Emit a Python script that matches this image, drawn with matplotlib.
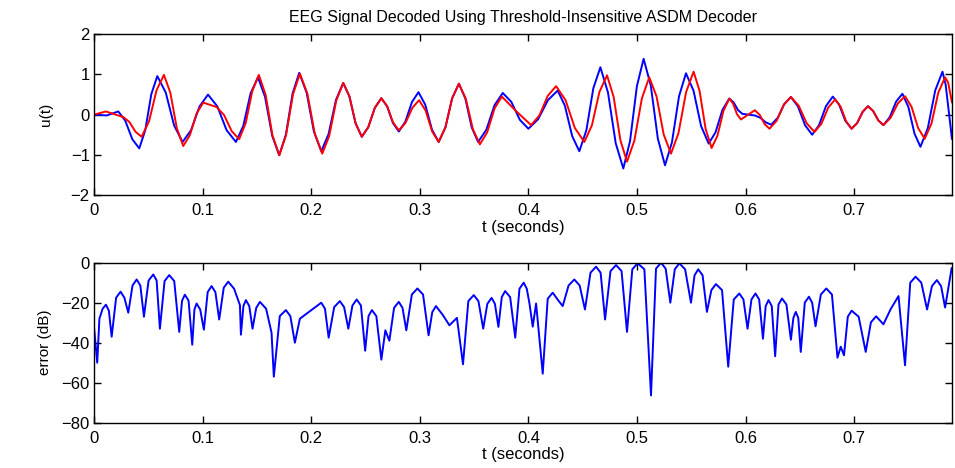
import matplotlib
matplotlib.use("Agg")
import matplotlib.pyplot as plt

# --- data (t in seconds) --------------------------------------------------
# original signal u(t), blue: extrema plus shoulder points on each swing
t_orig = [0.0, 0.0117, 0.0224, 0.0288, 0.0353, 0.0417, 0.0472, 0.0528,
          0.0583, 0.0661, 0.0738, 0.0816, 0.0894, 0.0972, 0.105, 0.1136,
          0.1221, 0.1307, 0.1375, 0.1442, 0.151, 0.1575, 0.1641, 0.1706,
          0.1767, 0.1829, 0.189, 0.1958, 0.2025, 0.2093, 0.216, 0.2228,
          0.2295, 0.2352, 0.2409, 0.2466, 0.2526, 0.2586, 0.2646, 0.27,
          0.2753, 0.2807, 0.2867, 0.2928, 0.2988, 0.305, 0.3112, 0.3174,
          0.3236, 0.3298, 0.336, 0.3419, 0.3478, 0.3537, 0.3613, 0.3688,
          0.3764, 0.3843, 0.3921, 0.4, 0.409, 0.418, 0.427, 0.4336,
          0.4403, 0.4469, 0.4534, 0.4598, 0.4663, 0.4733, 0.4804, 0.4874,
          0.4936, 0.4999, 0.5061, 0.5127, 0.5192, 0.5258, 0.5322, 0.5387,
          0.5451, 0.5521, 0.559, 0.566, 0.5723, 0.5787, 0.585, 0.589,
          0.593, 0.597, 0.6085, 0.6135, 0.6186, 0.6236, 0.6296, 0.6357,
          0.6417, 0.6482, 0.6548, 0.6613, 0.6676, 0.674, 0.6803, 0.6861,
          0.6918, 0.6976, 0.7027, 0.7078, 0.7127, 0.7174, 0.7222, 0.7269,
          0.7327, 0.7386, 0.7444, 0.7499, 0.7555, 0.761, 0.7678, 0.7746,
          0.7813, 0.7842, 0.79]
u_orig = [0.0, -0.02, 0.08, -0.15, -0.61, -0.84, -0.39, 0.51,
          0.96, 0.55, -0.27, -0.68, -0.385, 0.205, 0.50, 0.205,
          -0.385, -0.68, -0.28, 0.53, 0.93, 0.445, -0.525, -1.01,
          -0.50, 0.53, 1.04, 0.55, -0.42, -0.91, -0.485, 0.365,
          0.79, 0.455, -0.215, -0.55, -0.31, 0.17, 0.41, 0.20,
          -0.21, -0.42, -0.175, 0.315, 0.56, 0.25, -0.37, -0.68,
          -0.3175, 0.4075, 0.77, 0.4075, -0.3175, -0.68, -0.375, 0.235,
          0.54, 0.3175, -0.1275, -0.35, -0.1125, 0.3625, 0.60, 0.2225,
          -0.5325, -0.91, -0.3875, 0.6575, 1.18, 0.55, -0.71, -1.34,
          -0.6575, 0.7075, 1.39, 0.7275, -0.5975, -1.26, -0.6875, 0.4575,
          1.03, 0.5925, -0.2825, -0.72, -0.44, 0.12, 0.40, 0.305,
          0.115, 0.02, -0.02, -0.0775, -0.1925, -0.25, -0.0775, 0.2675,
          0.44, 0.205, -0.265, -0.50, -0.2625, 0.2125, 0.45, 0.25,
          -0.15, -0.35, -0.21, 0.07, 0.21, 0.0925, -0.1425, -0.26,
          -0.065, 0.325, 0.52, 0.19, -0.47, -0.80, -0.3325, 0.6025,
          1.07, 0.75, -0.60]

# decoded signal, red
t_dec = [0.0, 0.011, 0.027, 0.0326, 0.0383, 0.0439, 0.0507, 0.0576,
         0.0644, 0.0703, 0.0763, 0.0822, 0.0883, 0.0945, 0.1006, 0.1129,
         0.1198, 0.1268, 0.1337, 0.1397, 0.1458, 0.1518, 0.1581, 0.1643,
         0.1706, 0.1769, 0.1833, 0.1896, 0.1965, 0.2033, 0.2102, 0.2166,
         0.2231, 0.2295, 0.2352, 0.2409, 0.2466, 0.2526, 0.2586, 0.2646,
         0.27, 0.2753, 0.2807, 0.2869, 0.2932, 0.2994, 0.3054, 0.3114,
         0.3174, 0.3236, 0.3298, 0.336, 0.3424, 0.3489, 0.3553, 0.362,
         0.3688, 0.3755, 0.3894, 0.4025, 0.4102, 0.4178, 0.4255, 0.4342,
         0.4428, 0.4515, 0.4585, 0.4654, 0.4724, 0.4785, 0.4847, 0.4908,
         0.4976, 0.5045, 0.5113, 0.518, 0.5246, 0.5313, 0.5382, 0.5452,
         0.5521, 0.5576, 0.5632, 0.5687, 0.5741, 0.5796, 0.585, 0.5886,
         0.5921, 0.5957, 0.6085, 0.613, 0.6175, 0.622, 0.6286, 0.6351,
         0.6417, 0.6489, 0.6562, 0.6634, 0.6698, 0.6761, 0.6825, 0.6875,
         0.6926, 0.6976, 0.7027, 0.7078, 0.7127, 0.7174, 0.7222, 0.7269,
         0.7335, 0.7402, 0.7468, 0.7528, 0.7589, 0.7649, 0.7712, 0.7774,
         0.7837, 0.7865, 0.79]
u_dec = [0.0, 0.08, -0.06, -0.1825, -0.4275, -0.55, -0.165, 0.605,
         0.99, 0.5475, -0.3375, -0.78, -0.51, 0.03, 0.30, 0.19,
         -0.01, -0.41, -0.61, -0.21, 0.59, 0.99, 0.49, -0.51,
         -1.01, -0.5025, 0.5125, 1.02, 0.5225, -0.4725, -0.97, -0.53,
         0.35, 0.79, 0.455, -0.215, -0.55, -0.31, 0.17, 0.41,
         0.21, -0.19, -0.39, -0.2025, 0.1725, 0.36, 0.10, -0.42,
         -0.68, -0.3175, 0.4075, 0.77, 0.3925, -0.3625, -0.74, -0.4425,
         0.1525, 0.45, 0.07, -0.26, -0.0175, 0.4675, 0.71, 0.3625,
         -0.3325, -0.68, -0.265, 0.565, 0.98, 0.4425, -0.6325, -1.17,
         -0.645, 0.405, 0.93, 0.455, -0.495, -0.97, -0.46, 0.56,
         1.07, 0.595, -0.355, -0.83, -0.5225, 0.0925, 0.40, 0.27,
         0.01, -0.12, 0.11, -0.005, -0.235, -0.35, -0.1525, 0.2425,
         0.44, 0.2225, -0.2125, -0.43, -0.2275, 0.1775, 0.38, 0.1975,
         -0.1675, -0.35, -0.21, 0.07, 0.21, 0.0925, -0.1425, -0.26,
         -0.08, 0.28, 0.46, 0.195, -0.335, -0.60, -0.2175, 0.5475,
         0.93, 0.80, 0.31]

# reconstruction error in dB (arc tops, shoulders and notches)
t_err = [0.0, 0.003, 0.005, 0.008, 0.011, 0.0137, 0.0163, 0.0204,
         0.0245, 0.028, 0.0316, 0.0355, 0.0393, 0.0427, 0.046, 0.0503,
         0.0546, 0.0577, 0.0607, 0.065, 0.0693, 0.0739, 0.0785, 0.0811,
         0.0837, 0.0871, 0.0905, 0.0925, 0.0945, 0.0978, 0.1012, 0.1047,
         0.1083, 0.1118, 0.1153, 0.1195, 0.1236, 0.129, 0.1344, 0.1353,
         0.1376, 0.1399, 0.143, 0.146, 0.1494, 0.1528, 0.1585, 0.1635,
         0.1656, 0.1711, 0.1767, 0.1808, 0.185, 0.1896, 0.2093, 0.2127,
         0.2161, 0.2212, 0.2264, 0.2303, 0.2342, 0.238, 0.2419, 0.2458,
         0.2497, 0.2528, 0.2559, 0.26, 0.2646, 0.2683, 0.272, 0.2763,
         0.2807, 0.2841, 0.2876, 0.2927, 0.2978, 0.303, 0.3081, 0.3115,
         0.3149, 0.321, 0.3273, 0.3342, 0.3398, 0.3447, 0.3497, 0.354,
         0.3584, 0.3622, 0.3661, 0.3692, 0.3724, 0.3755, 0.3786, 0.3832,
         0.3879, 0.3918, 0.3957, 0.3985, 0.401, 0.404, 0.4071, 0.4132,
         0.4178, 0.4224, 0.427, 0.4316, 0.437, 0.4423, 0.4472, 0.4521,
         0.4572, 0.4623, 0.4665, 0.4706, 0.4756, 0.4807, 0.4858, 0.4908,
         0.4957, 0.5006, 0.5068, 0.5129, 0.5175, 0.5221, 0.5264, 0.5307,
         0.5348, 0.539, 0.5443, 0.5497, 0.553, 0.5564, 0.5604, 0.5644,
         0.5685, 0.5727, 0.5783, 0.584, 0.5891, 0.5942, 0.598, 0.6018,
         0.6054, 0.6091, 0.6125, 0.616, 0.6185, 0.6211, 0.6241, 0.6272,
         0.6303, 0.6335, 0.6376, 0.6417, 0.644, 0.6462, 0.6485, 0.6508,
         0.6545, 0.6583, 0.6613, 0.6644, 0.6693, 0.6743, 0.6795, 0.6846,
         0.6876, 0.6906, 0.6941, 0.6976, 0.7041, 0.7106, 0.7154, 0.7202,
         0.7269, 0.7338, 0.7408, 0.7468, 0.7516, 0.7565, 0.7618, 0.7671,
         0.7716, 0.7761, 0.78, 0.7837, 0.7897]
err_db = [-32, -50, -28, -23, -21, -24, -37, -17.5,
          -14.5, -17.5, -25, -11.4, -8.4, -11.4, -27, -8.9,
          -5.9, -8.9, -33, -9.2, -6.2, -9.2, -34.6, -19,
          -16, -19, -41, -23.4, -20.4, -23.4, -33.5, -14.7,
          -11.7, -14.7, -28.4, -12.5, -9.5, -13, -21.2, -36,
          -21.7, -18.7, -21.7, -33, -22.6, -19.6, -23, -35,
          -57, -26.7, -23.7, -26.7, -40, -28, -20, -23,
          -37.5, -22.2, -19.2, -22.2, -33, -21.4, -18.4, -21.4,
          -44, -26.7, -23.7, -26.7, -48.5, -33.8, -39, -22.6,
          -19.6, -22.6, -33.8, -15.9, -12.9, -15.9, -36.3, -24.7,
          -21.7, -26, -31.3, -27.6, -50.8, -19.2, -16.2, -19.2,
          -33, -20.6, -17.6, -20.6, -32.1, -17.2, -14.2, -17.2,
          -37.5, -13, -10, -13, -20.4, -32, -20.4, -55.5,
          -18, -15, -18.5, -21.7, -11.4, -8.4, -11.4, -23.4,
          -5, -2, -5, -28.4, -4.2, -1.2, -4.2, -34.6,
          -3.3, -0.3, -3.3, -66.4, -3, 0, -3, -20,
          -3.3, -0.3, -3.3, -20, -6.3, -3.3, -6.3, -24.6,
          -13.7, -10.7, -13.7, -52, -18.4, -15.4, -18.4, -33,
          -18.4, -15.4, -18.4, -38, -21.7, -18.7, -21.7, -46.8,
          -20.9, -17.9, -20.9, -38.5, -27.6, -24.6, -27.6, -44.6,
          -20, -17, -20, -31.8, -15.9, -12.9, -15.9, -47.5,
          -42, -46.3, -27, -24, -27, -44.6, -29.8, -26.8,
          -30.8, -23, -16.7, -51.3, -10, -7, -10, -23.4,
          -11.7, -8.7, -11.7, -22.4, -2.8]

x_ticks = [0, 0.1, 0.2, 0.3, 0.4, 0.5, 0.6, 0.7]
x_tick_labels = ["0", "0.1", "0.2", "0.3", "0.4", "0.5", "0.6", "0.7"]
T_MAX = 0.79

plt.rcParams["font.family"] = ["Liberation Sans", "DejaVu Sans"]

fig = plt.figure(figsize=(9.55, 4.68), dpi=100)
ax1 = fig.add_axes([0.0984, 0.5833, 0.8984, 0.3434])
ax2 = fig.add_axes([0.0984, 0.0968, 0.8984, 0.3419])


def _matlab_axes(ax):
    ax.set_xlim(0, T_MAX)
    ax.set_xticks(x_ticks)
    ax.set_xticklabels(x_tick_labels)
    ax.tick_params(direction="in", top=True, right=True, length=5,
                   width=1.0, labelsize=12)
    ax.tick_params(axis="x", pad=6)
    ax.tick_params(axis="y", pad=3)
    for sp in ax.spines.values():
        sp.set_linewidth(1.0)
    ax.set_xlabel("t (seconds)", fontsize=12, labelpad=1)


ax1.plot(t_orig, u_orig, color="#0000ff", lw=1.4)
ax1.plot(t_dec, u_dec, color="#ff0000", lw=1.4)
ax1.set_ylim(-2, 2)
ax1.set_yticks([-2, -1, 0, 1, 2])
ax1.set_ylabel("u(t)", fontsize=11, labelpad=13)
ax1.set_title("EEG Signal Decoded Using Threshold-Insensitive ASDM Decoder",
              fontsize=11.5, pad=9)
_matlab_axes(ax1)

ax2.plot(t_err, err_db, color="#0000ff", lw=1.4)
ax2.set_ylim(-80, 0)
ax2.set_yticks([-80, -60, -40, -20, 0])
ax2.set_ylabel("error (dB)", fontsize=11, labelpad=7)
_matlab_axes(ax2)

fig.savefig("out.png", dpi=100)
